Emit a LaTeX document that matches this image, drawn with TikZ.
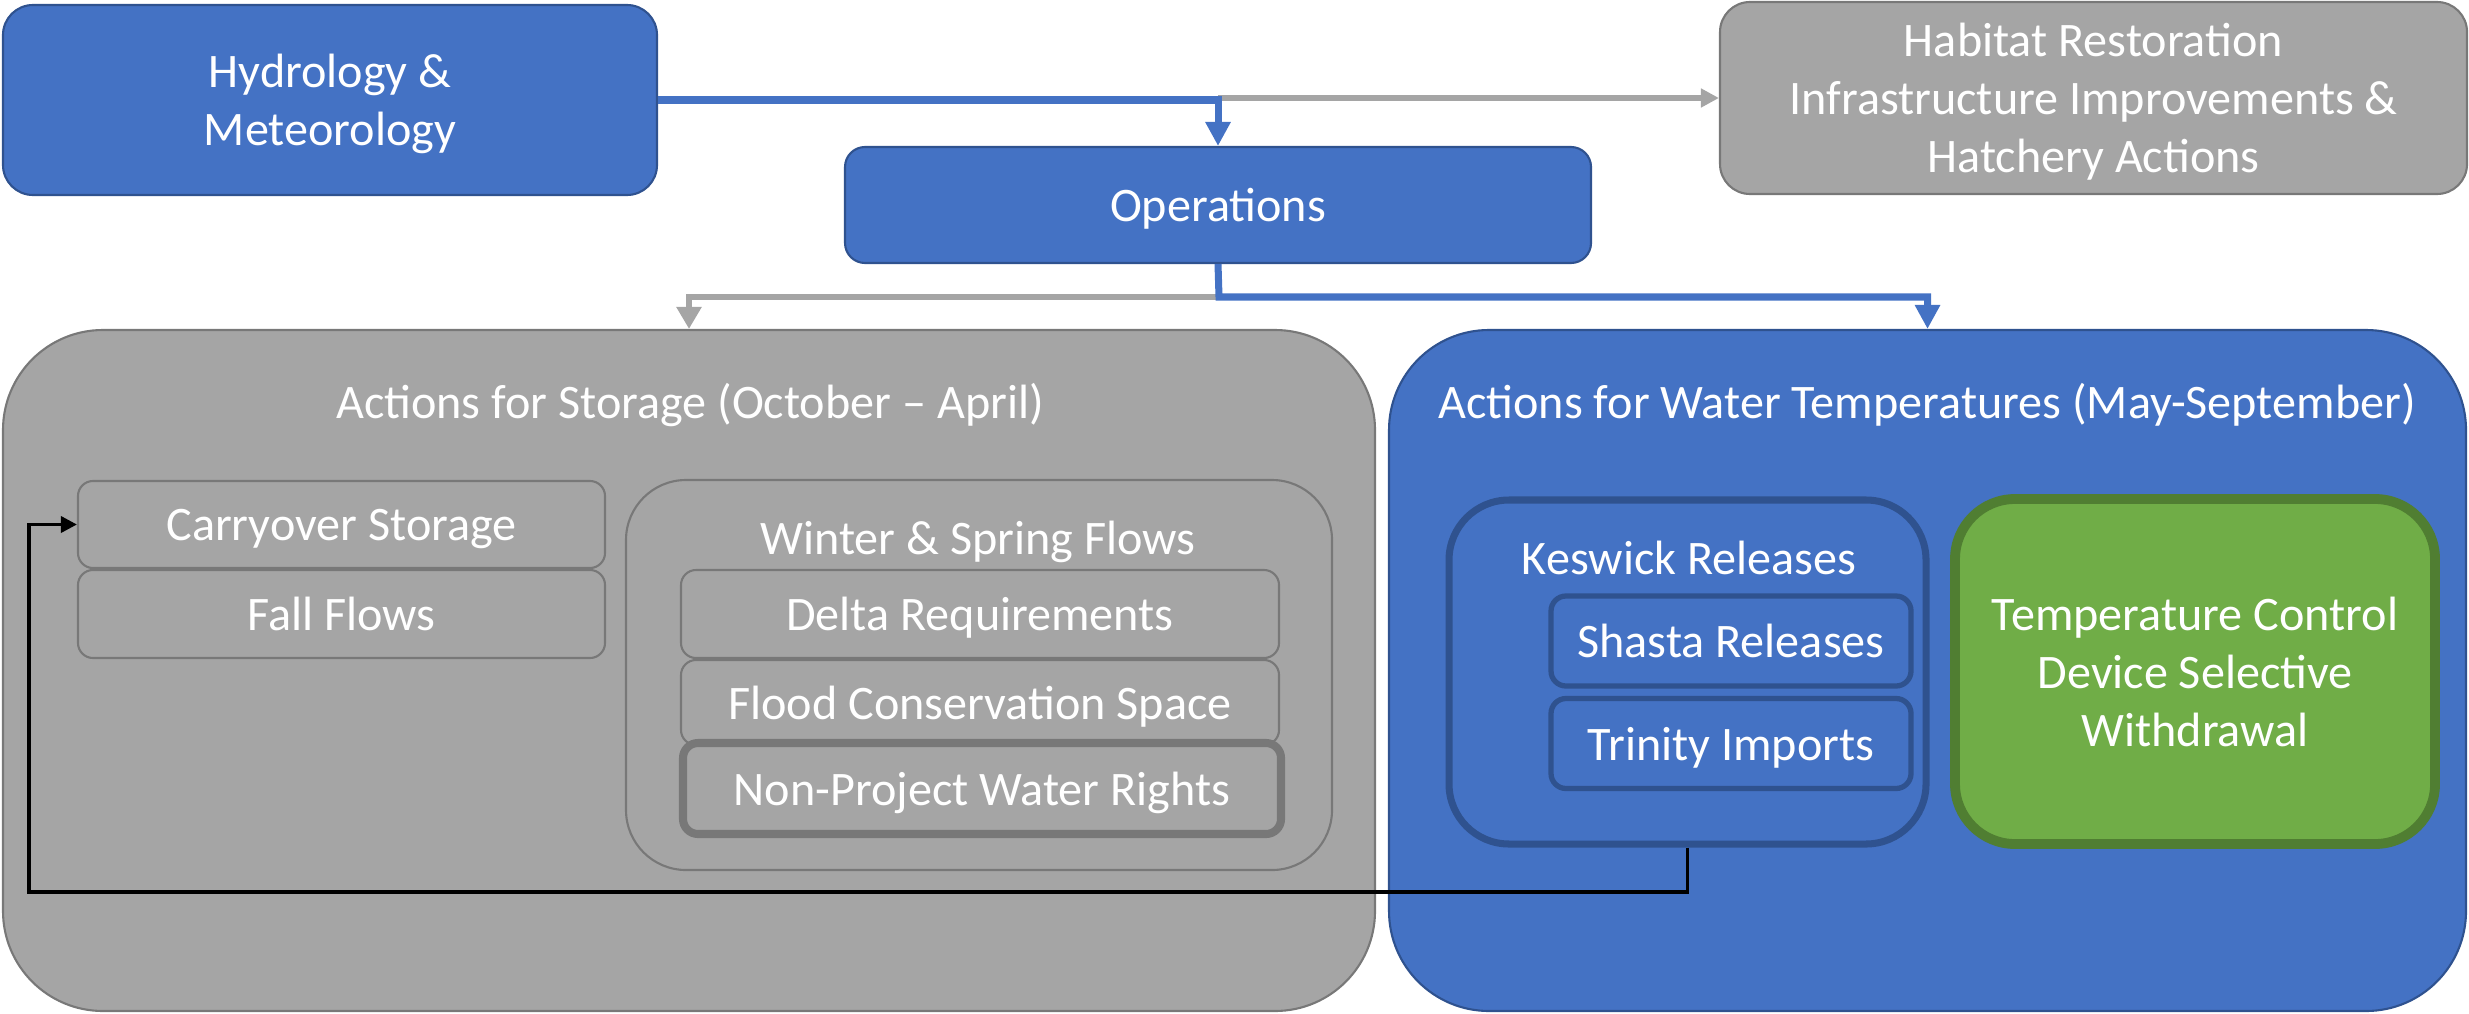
\documentclass[tikz,border=0pt]{standalone}
\usepackage{fontspec}
\setmainfont{Carlito}
\usetikzlibrary{arrows.meta}
\definecolor{boxblue}{HTML}{4472C4}
\definecolor{edgeblue}{HTML}{2F528F}
\definecolor{boxgray}{HTML}{A5A5A5}
\definecolor{edgegray}{HTML}{787878}
\definecolor{boxgreen}{HTML}{70AD47}
\definecolor{edgegreen}{HTML}{507E32}
\begin{document}
\begin{tikzpicture}
  [every node/.style={text=white,font=\fontsize{13.7}{16.5}\selectfont,align=center,inner sep=0pt,text depth=0pt},
   bluebox/.style={rectangle,draw=edgeblue,fill=boxblue,line width=0.6pt},
   graybox/.style={rectangle,draw=edgegray,fill=boxgray,line width=0.6pt},
   greenbox/.style={rectangle,draw=edgegreen,fill=boxgreen,line width=2.8pt},
   blueline/.style={draw=boxblue,line width=2pt,-{Triangle[length=2.4mm,width=2.4mm]}},
   grayline/.style={draw=boxgray,line width=1.8pt,-{Triangle[length=2.2mm,width=2.4mm]}},
   backline/.style={draw=black,line width=1pt,-{Triangle[length=1.6mm,width=1.6mm]}}]
  \useasboundingbox (0,0) rectangle (24.69,-10.13);

  % top row
  \node[bluebox,rounded corners=0.3cm,minimum width=6.54cm,minimum height=1.9cm] (hydro) at (3.30,-1.00) {Hydrology \&\\Meteorology};
  \node[bluebox,rounded corners=0.2cm,minimum width=7.46cm,minimum height=1.16cm] (ops) at (12.18,-2.05) {Operations};
  \node[graybox,rounded corners=0.3cm,minimum width=7.47cm,minimum height=1.92cm] (habitat) at (20.935,-0.98) {Habitat Restoration\\Infrastructure Improvements \&\\Hatchery Actions};

  % big groups
  \node[graybox,rounded corners=1cm,minimum width=13.72cm,minimum height=6.81cm] (storage) at (6.89,-6.705) {};
  \node[bluebox,rounded corners=1cm,minimum width=10.77cm,minimum height=6.81cm] (temps) at (19.275,-6.705) {};
  \node (storagetitle) at (6.90,-4.01) {Actions for Storage (October -- April)};
  \node (tempstitle) at (19.27,-4.01) {Actions for Water Temperatures (May-September)};

  % storage actions
  \node[graybox,rounded corners=0.15cm,minimum width=5.27cm,minimum height=0.87cm] (carry) at (3.415,-5.245) {Carryover Storage};
  \node[graybox,rounded corners=0.15cm,minimum width=5.27cm,minimum height=0.88cm] (fall) at (3.415,-6.14) {Fall Flows};
  \node[graybox,rounded corners=0.6cm,minimum width=7.06cm,minimum height=3.9cm] (winter) at (9.79,-6.75) {};
  \node (winterlabel) at (9.78,-5.38) {Winter \& Spring Flows};
  \node[graybox,rounded corners=0.15cm,minimum width=5.98cm,minimum height=0.88cm] (delta) at (9.80,-6.14) {Delta Requirements};
  \node[graybox,rounded corners=0.15cm,minimum width=5.98cm,minimum height=0.85cm] (flood) at (9.80,-7.025) {Flood Conservation Space};
  \node[graybox,draw=edgegray,line width=2.3pt,rounded corners=0.15cm,minimum width=5.98cm,minimum height=0.91cm] (nonproj) at (9.82,-7.885) {Non-Project Water Rights};

  % temperature actions
  \node[bluebox,line width=2pt,rounded corners=0.6cm,minimum width=4.77cm,minimum height=3.44cm] (keswick) at (16.875,-6.72) {};
  \node (keswicklabel) at (16.89,-5.58) {Keswick Releases};
  \node[bluebox,line width=1.5pt,rounded corners=0.15cm,minimum width=3.6cm,minimum height=0.9cm] (shasta) at (17.31,-6.41) {Shasta Releases};
  \node[bluebox,line width=1.5pt,rounded corners=0.15cm,minimum width=3.6cm,minimum height=0.9cm] (trinity) at (17.31,-7.435) {Trinity Imports};
  \node[greenbox,rounded corners=0.6cm,minimum width=4.8cm,minimum height=3.45cm] (tcd) at (21.95,-6.715) {Temperature Control\\Device Selective\\Withdrawal};

  % connectors
  \coordinate (split) at (12.19,-2.97);
  \coordinate (loop) at (0.29,-8.92);
  \draw[grayline,-{Triangle[length=1.8mm,width=1.8mm]}] (habitat.west -| ops.north) -- (habitat.west);
  \draw[blueline] (hydro.east) -| (ops.north);
  \draw[grayline] (split) -| (storage.north);
  \draw[blueline] (ops.south) -- (split) -| (temps.north);
  \draw[backline] (keswick.south) |- (loop) |- (carry.west);
\end{tikzpicture}
\end{document}
